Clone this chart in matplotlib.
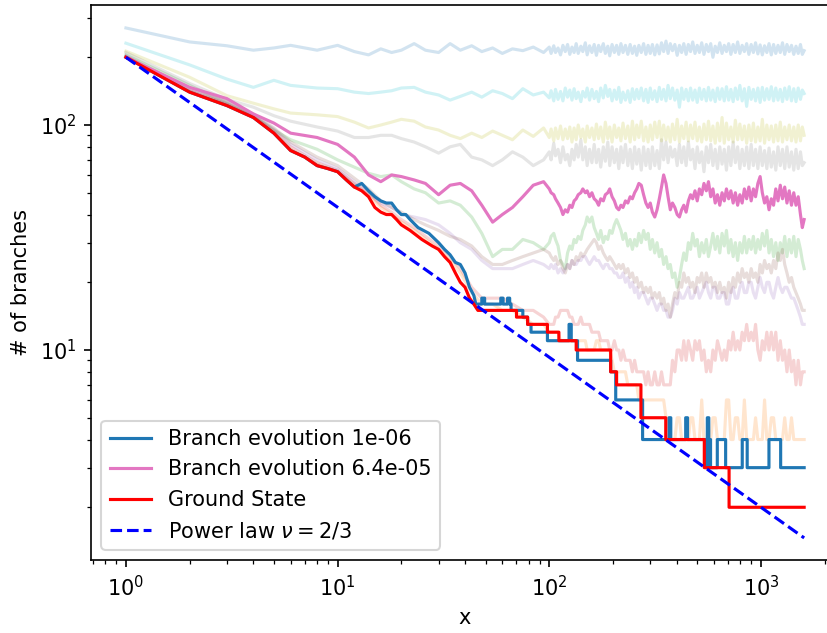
import numpy as np
import matplotlib.pyplot as plt

# sample positions (system size x) shared by the noisy branch curves
x_grid = [1, 2, 3, 4, 5, 6, 8, 10, 12, 14, 16, 18, 20,
          23, 26, 30, 34, 38, 43, 48, 54, 60, 67, 75, 84, 94,
          100, 102, 105, 107, 110, 113, 116, 119, 122, 125,
          128, 131, 134, 137, 141, 144, 148, 151, 155, 159,
          163, 167, 171, 175, 180, 184, 189, 193, 198, 203,
          208, 213, 218, 223, 229, 235, 241, 247, 253, 259,
          265, 272, 279, 286, 293, 300, 307, 315, 323, 331,
          339, 347, 356, 364, 373, 382, 392, 402, 412, 422,
          432, 443, 454, 465, 476, 488, 500, 512, 525, 538,
          552, 565, 579, 593, 608, 623, 639, 655, 671, 687,
          704, 721, 739, 757, 776, 795, 815, 835, 856, 877,
          899, 921, 943, 967, 991, 1015, 1040, 1066, 1092, 1119,
          1147, 1175, 1204, 1234, 1264, 1295, 1327, 1360, 1394, 1429,
          1464, 1500, 1537, 1568, 1600]

# background branch counts, one per noise level
br_2e_06 = [200, 141, 123, 109, 93, 78, 67, 62, 54, 49, 43, 40, 37,
            34, 31, 28, 25, 22, 18, 16, 16, 15, 15, 14, 13, 13,
            12, 12, 12, 12, 12, 11, 11, 11, 11, 11,
            11, 11, 11, 11, 11, 11, 11, 10, 10, 10,
            10, 11, 11, 10, 10, 10, 10, 10, 9, 8,
            8, 8, 8, 8, 8, 7, 7, 7, 7, 7,
            6, 6, 6, 6, 6, 6, 6, 6, 6, 6,
            6, 6, 5, 5, 4, 4, 4, 5, 5, 4,
            4, 4, 4, 5, 5, 4, 4, 4, 6, 4,
            4, 4, 4, 5, 5, 4, 4, 4, 4, 6,
            6, 4, 4, 5, 5, 4, 4, 6, 4, 4,
            4, 4, 5, 4, 4, 4, 6, 4, 4, 5,
            5, 4, 4, 4, 4, 5, 4, 4, 5, 4,
            4, 4, 4, 4, 4]
br_4e_06 = [205, 150, 125, 110, 95, 86, 78, 70, 65, 61, 59, 60, 56,
            52, 50, 45, 46, 44, 39, 33, 26, 28, 28, 31, 30, 28,
            30, 32, 33, 31, 29, 25, 24, 23, 27, 29,
            28, 31, 30, 32, 31, 34, 36, 39, 37, 39,
            35, 33, 31, 34, 30, 32, 31, 34, 33, 36,
            38, 36, 34, 31, 33, 29, 31, 28, 31, 29,
            33, 30, 34, 31, 33, 28, 31, 27, 30, 26,
            28, 24, 26, 23, 24, 21, 22, 19, 21, 24,
            27, 25, 30, 28, 33, 29, 31, 26, 30, 27,
            31, 26, 29, 33, 28, 32, 27, 33, 29, 34,
            27, 31, 26, 30, 25, 30, 27, 32, 27, 31,
            28, 32, 27, 31, 28, 33, 29, 34, 27, 31,
            26, 30, 25, 30, 27, 32, 26, 31, 27, 32,
            26, 31, 28, 25, 23]
br_8e_06 = [201, 142, 124, 109, 94, 80, 68, 63, 55, 50, 44, 41, 38,
            35, 32, 29, 26, 23, 19, 17, 17, 17, 16, 15, 15, 14,
            13, 13, 13, 14, 14, 15, 15, 15, 15, 14,
            14, 13, 13, 13, 14, 13, 13, 13, 13, 12,
            12, 12, 12, 11, 11, 11, 11, 10, 10, 11,
            10, 10, 9, 10, 9, 9, 9, 8, 9, 8,
            8, 8, 8, 7, 8, 7, 7, 8, 7, 7,
            8, 7, 7, 7, 7, 9, 8, 10, 10, 9,
            11, 9, 11, 10, 9, 11, 10, 11, 9, 10,
            8, 9, 8, 10, 9, 11, 10, 9, 10, 9,
            11, 10, 12, 10, 11, 10, 12, 11, 13, 11,
            12, 11, 13, 10, 9, 11, 10, 12, 10, 12,
            10, 12, 9, 11, 9, 10, 8, 10, 8, 9,
            7, 9, 7, 8, 8]
br_1_6e_05 = [202, 144, 126, 110, 96, 82, 70, 64, 56, 50, 45, 43, 40,
              39, 38, 36, 33, 30, 28, 25, 23, 23, 23, 24, 25, 24,
              23, 24, 23, 24, 22, 23, 22, 23, 24, 23,
              25, 24, 24, 25, 25, 26, 26, 25, 24, 25,
              26, 25, 25, 24, 23, 24, 24, 23, 23, 22,
              22, 21, 21, 22, 20, 21, 19, 20, 18, 19,
              17, 18, 18, 17, 16, 17, 17, 16, 15, 16,
              16, 15, 15, 14, 14, 15, 17, 16, 18, 17,
              17, 18, 19, 17, 17, 18, 19, 17, 18, 19,
              20, 18, 17, 19, 19, 17, 17, 18, 18, 16,
              16, 18, 19, 17, 17, 19, 20, 18, 18, 20,
              20, 18, 17, 19, 21, 19, 18, 20, 20, 18,
              17, 19, 21, 19, 18, 19, 19, 18, 17, 17,
              16, 15, 14, 13, 13]
br_3_2e_05 = [203, 145, 127, 112, 97, 84, 72, 66, 58, 52, 46, 43, 41,
              38, 36, 34, 32, 31, 29, 26, 24, 24, 25, 26, 27, 28,
              27, 26, 25, 26, 24, 25, 23, 22, 24, 23,
              25, 24, 26, 25, 27, 26, 27, 28, 29, 30,
              31, 30, 28, 29, 27, 26, 25, 26, 25, 24,
              23, 24, 23, 24, 22, 23, 21, 22, 20, 21,
              19, 20, 18, 19, 18, 19, 17, 18, 17, 18,
              16, 17, 15, 16, 14, 16, 18, 17, 20, 19,
              22, 20, 21, 19, 20, 18, 21, 20, 22, 19,
              22, 20, 21, 19, 20, 18, 20, 18, 19, 17,
              20, 18, 21, 19, 22, 20, 23, 21, 22, 20,
              23, 21, 22, 20, 24, 22, 25, 23, 24, 22,
              25, 23, 27, 25, 28, 24, 22, 20, 21, 19,
              18, 17, 16, 15, 15]
br_1_28e_04 = [210, 153, 130, 120, 110, 104, 98, 94, 88, 88, 90, 90, 87,
               84, 80, 75, 80, 82, 72, 70, 66, 70, 76, 72, 66, 70,
               76, 70, 83, 73, 78, 68, 80, 70, 74, 66,
               78, 70, 82, 72, 86, 70, 80, 66, 78, 68,
               82, 68, 78, 65, 80, 69, 84, 66, 80, 68,
               78, 64, 80, 68, 82, 66, 78, 64, 80, 67,
               78, 63, 80, 66, 78, 64, 80, 66, 77, 64,
               86, 70, 84, 68, 80, 72, 78, 66, 82, 68,
               80, 66, 84, 70, 78, 64, 80, 68, 76, 62,
               80, 68, 82, 66, 78, 64, 80, 67, 78, 63,
               80, 66, 84, 68, 80, 64, 78, 66, 80, 64,
               82, 66, 78, 64, 80, 66, 77, 64, 79, 65,
               76, 63, 80, 66, 78, 64, 80, 65, 76, 63,
               78, 64, 76, 66, 68]
br_2_56e_04 = [213, 163, 135, 125, 118, 113, 111, 109, 103, 97, 100, 103, 106,
               104, 98, 95, 90, 87, 92, 88, 94, 90, 86, 95, 89, 97,
               88, 96, 85, 97, 87, 99, 86, 96, 87, 98,
               84, 97, 86, 100, 88, 96, 84, 99, 88, 97,
               86, 101, 87, 98, 84, 103, 87, 98, 84, 100,
               88, 97, 85, 102, 87, 99, 84, 104, 86, 100,
               88, 104, 85, 98, 84, 100, 86, 103, 88, 104,
               85, 100, 86, 98, 84, 101, 86, 106, 84, 99,
               87, 103, 85, 100, 87, 103, 85, 98, 84, 101,
               86, 104, 85, 99, 83, 102, 85, 108, 83, 102,
               86, 98, 84, 105, 86, 101, 86, 99, 83, 100,
               85, 102, 84, 98, 85, 106, 83, 100, 86, 99,
               84, 100, 85, 103, 84, 98, 86, 100, 85, 98,
               84, 100, 85, 98, 90]
br_5_12e_04 = [231, 185, 160, 147, 158, 150, 146, 145, 140, 138, 140, 142, 146,
               147, 140, 136, 129, 134, 140, 133, 142, 138, 131, 145, 136, 140,
               132, 142, 128, 144, 130, 141, 128, 146, 133, 143,
               129, 145, 131, 140, 127, 141, 133, 146, 129, 144,
               131, 141, 127, 146, 132, 150, 134, 144, 128, 143,
               130, 147, 126, 140, 129, 142, 126, 145, 130, 144,
               131, 146, 128, 144, 126, 146, 130, 142, 127, 147,
               130, 144, 128, 150, 131, 146, 129, 143, 120, 146,
               130, 144, 128, 146, 129, 143, 126, 146, 130, 144,
               128, 147, 129, 143, 127, 146, 130, 145, 128, 148,
               129, 144, 127, 146, 130, 150, 128, 145, 121, 147,
               130, 144, 128, 146, 126, 147, 129, 145, 130, 148,
               128, 146, 129, 144, 127, 146, 130, 148, 128, 145,
               127, 146, 130, 143, 138]
br_1_024e_03 = [270, 234, 225, 215, 220, 226, 215, 226, 212, 205, 218, 210, 215,
                230, 215, 210, 230, 215, 225, 212, 220, 208, 218, 214, 222, 210,
                222, 208, 225, 210, 220, 205, 226, 212, 228, 206,
                222, 210, 230, 208, 224, 212, 232, 205, 225, 210,
                228, 204, 226, 212, 230, 208, 224, 203, 228, 210,
                226, 206, 230, 210, 226, 206, 228, 208, 224, 204,
                226, 210, 230, 206, 226, 208, 228, 205, 227, 207,
                232, 212, 236, 208, 230, 214, 228, 204, 226, 210,
                230, 206, 228, 212, 234, 208, 226, 210, 232, 206,
                228, 212, 230, 200, 224, 210, 232, 208, 226, 212,
                230, 206, 228, 210, 234, 208, 226, 212, 230, 206,
                228, 210, 232, 207, 227, 205, 225, 210, 230, 205,
                228, 208, 226, 210, 232, 206, 228, 212, 226, 206,
                224, 208, 228, 206, 214]

# highlighted branch curve, eps = 6.4e-05
br_6_4e_05 = [200, 147, 131, 112, 102, 92, 88, 82, 72, 60, 56, 60, 59,
              57, 55, 49, 54, 55, 51, 44, 37, 40, 43, 48, 54, 56,
              52, 50, 49, 47, 45, 43, 40, 42, 41, 44,
              43, 46, 47, 49, 50, 52, 50, 51, 48, 50,
              47, 46, 44, 47, 46, 49, 50, 52, 48, 46,
              43, 42, 44, 43, 46, 45, 48, 47, 50, 52,
              55, 54, 49, 45, 43, 45, 41, 39, 42, 47,
              53, 60, 55, 48, 42, 45, 43, 40, 39, 42,
              44, 41, 46, 49, 47, 51, 46, 52, 49, 55,
              51, 56, 48, 52, 45, 49, 44, 50, 46, 52,
              47, 51, 45, 50, 44, 49, 45, 52, 47, 53,
              46, 52, 48, 55, 59, 50, 45, 48, 42, 47,
              44, 52, 46, 54, 47, 53, 45, 51, 44, 50,
              44, 48, 40, 35, 38]

# highlighted branch curve, eps = 1e-06: smooth start, then integer steps (start x, level)
b1_head_x = [1, 2, 3, 4, 5, 6, 7, 8, 9, 10, 11, 12, 13, 14, 15, 16, 17, 18, 19, 20, 21, 22,
             24, 27, 30, 32, 34, 36, 38, 40, 42, 44]
b1_head_y = [200, 140, 122, 108, 92, 77, 72, 66, 64, 62, 57, 53, 55, 51, 48, 46, 45, 45, 42, 40, 40, 38,
             35, 33, 30, 28, 26.5, 24.5, 24, 22, 19, 17.5]
b1_step_x = [45, 48, 49.5, 59, 60.5, 63.5, 65, 66, 75, 79, 82, 98, 124, 127, 136, 195, 206, 276,
             368, 375, 441, 450, 549, 558, 567, 572, 578, 622, 681, 816, 861, 1091, 1239]
b1_step_y = [16, 17, 16, 17, 16, 17, 16, 15, 14, 13, 12, 11, 13, 11, 9, 8, 6, 4,
             5, 4, 5, 4, 3, 5, 3, 4, 3, 4, 3, 4, 3, 4, 3]

# ground state branch count
gs_head_x = [1, 2, 3, 4, 5, 6, 7, 8, 9, 10, 11, 12, 13, 14, 15, 16, 17, 18, 19, 20, 22, 25,
             28, 30, 32, 34, 36, 38, 40, 42, 44]
gs_head_y = [200, 140, 122, 108, 92, 77, 72, 66, 64, 62, 57, 53, 51, 48, 43, 41, 40, 40, 38, 36, 34, 31,
             29, 28, 26, 24.5, 22, 20, 19, 17, 16]
gs_step_x = [46, 70, 79, 98, 111, 134, 195, 208, 271, 355, 540, 707]
gs_step_y = [15, 14, 13, 12, 11, 10, 8, 7, 5, 4, 3, 2]

x_end = 1600
pl_amp = 200
pl_nu = 2 / 3

# faint curves: (values, colour) in drawing order
faint = [
    (br_2e_06, 'tab:orange'),
    (br_4e_06, 'tab:green'),
    (br_8e_06, 'tab:red'),
    (br_1_6e_05, 'tab:purple'),
    (br_3_2e_05, 'tab:brown'),
    (br_1_28e_04, 'tab:gray'),
    (br_2_56e_04, 'tab:olive'),
    (br_5_12e_04, 'tab:cyan'),
    (br_1_024e_03, 'tab:blue'),
]


def with_steps(head_x, head_y, step_x, step_y, end):
    xs, ys = list(head_x), list(head_y)
    for i, (x0, lev) in enumerate(zip(step_x, step_y)):
        x1 = step_x[i + 1] if i + 1 < len(step_x) else end
        xs += [x0, x1]
        ys += [lev, lev]
    return xs, ys


fig = plt.figure(figsize=(828 / 150, 633 / 150), dpi=150)
ax = fig.add_axes([91 / 828, 73 / 633, 747 / 828, 555.5 / 633])

for vals, col in faint:
    ax.plot(x_grid, vals, color=col, alpha=0.2, lw=1.5)

bx, by = with_steps(b1_head_x, b1_head_y, b1_step_x, b1_step_y, x_end)
ax.plot(bx, by, color='tab:blue', lw=1.5, label='Branch evolution 1e-06')
ax.plot(x_grid, br_6_4e_05, color='tab:pink', lw=1.5, label='Branch evolution 6.4e-05')

gx, gy = with_steps(gs_head_x, gs_head_y, gs_step_x, gs_step_y, x_end)
ax.plot(gx, gy, color='red', lw=1.5, label='Ground State')

pl_x = np.array([1, x_end], dtype=float)
ax.plot(pl_x, pl_amp * pl_x ** (-pl_nu), 'b--', lw=1.5, label=r'Power law $\nu = 2/3$')

ax.set_xscale('log')
ax.set_yscale('log')
ax.set_xlim(10 ** -0.165, 10 ** 3.364)
ax.set_ylim(10 ** 0.0667, 10 ** 2.5356)
ax.set_xlabel('x')
ax.set_ylabel('# of branches')
ax.legend(loc='lower left')

fig.savefig('out.png', dpi=150)
